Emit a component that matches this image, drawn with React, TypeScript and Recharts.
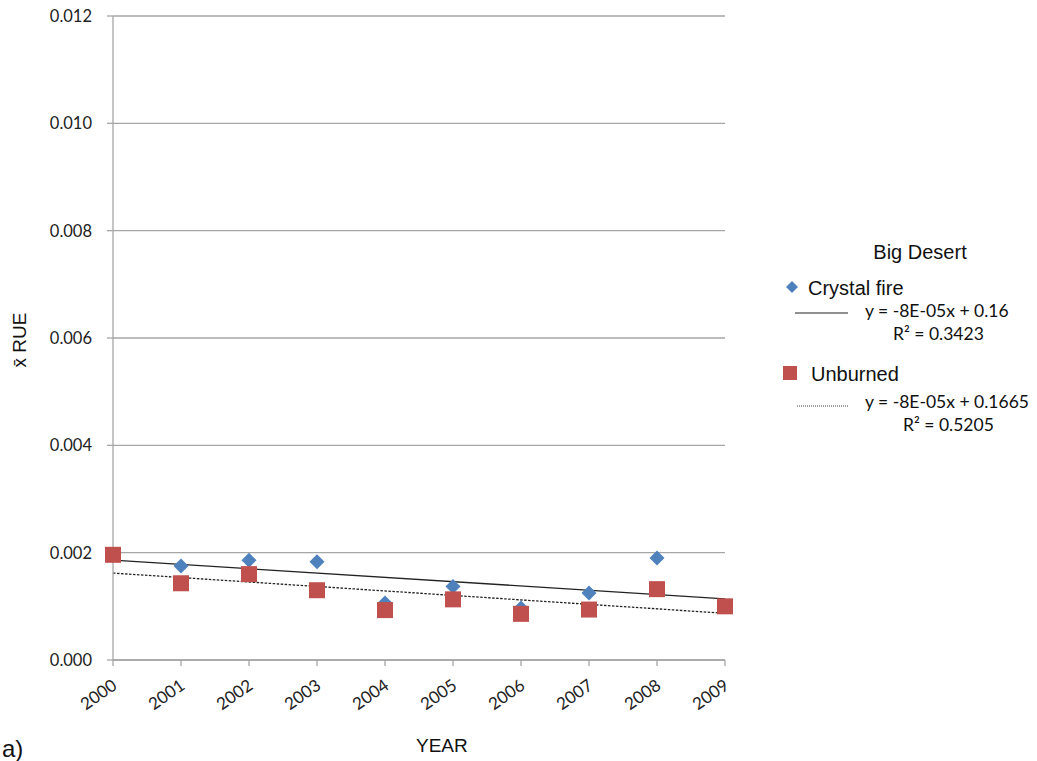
import React from 'react'
import {
  ComposedChart, Scatter, Line, XAxis, YAxis, CartesianGrid
} from 'recharts'

const years = [2000, 2001, 2002, 2003, 2004, 2005, 2006, 2007, 2008, 2009]
const crystalFire = [0.00195, 0.00175, 0.00186, 0.00183, 0.00106, 0.00137, 0.00097, 0.00125, 0.0019, 0.00101]
const unburned = [0.00196, 0.00143, 0.0016, 0.0013, 0.00093, 0.00113, 0.00086, 0.00094, 0.00132, 0.001]
// fitted trend lines, values at the first and last year
const trendYears = [2000, 2009]
const crystalTrend = [0.00186, 0.00114]
const unburnedTrend = [0.00162, 0.00087]
const yTicks = [0, 0.002, 0.004, 0.006, 0.008, 0.01, 0.012]

const BLUE = '#4f81bd'
const RED = '#c0504d'
const GRID = '#a6a6a6'

const toPoints = (xs: number[], vals: number[]) => xs.map((year, i) => ({ year, value: vals[i] }))

const crystalData = toPoints(years, crystalFire)
const unburnedData = toPoints(years, unburned)
const crystalTrendData = toPoints(trendYears, crystalTrend)
const unburnedTrendData = toPoints(trendYears, unburnedTrend)

const Diamond = (props: any) => {
  const { cx, cy } = props
  const r = 7.5
  return <path d={`M${cx},${cy - r}L${cx + r},${cy}L${cx},${cy + r}L${cx - r},${cy}Z`} fill={BLUE} />
}

const Square = (props: any) => {
  const { cx, cy } = props
  return <rect x={cx - 8} y={cy - 8} width={16} height={16} fill={RED} />
}

const eqFont = 'Lato, sans-serif'
const labelFont = '"Liberation Sans", Arial, sans-serif'

const YearTick = (props: any) => {
  const { x, y, payload } = props
  return (
    <text
      x={x + 5}
      y={y + 20}
      transform={`rotate(-35, ${x + 5}, ${y + 20})`}
      textAnchor="end"
      fontFamily={eqFont}
      fontSize={17}
      fill="#222"
    >
      {payload.value}
    </text>
  )
}

export default function App() {
  return (
    <div style={{ position: 'absolute', left: 0, top: 0, width: 1037, height: 761, background: '#fff', overflow: 'hidden' }}>
      <ComposedChart width={1037} height={761} margin={{ top: 16, right: 312, left: 53, bottom: 41 }}>
        <CartesianGrid vertical={false} stroke={GRID} strokeWidth={1.3} />
        <XAxis
          type="number"
          dataKey="year"
          domain={[2000, 2009]}
          ticks={years}
          stroke={GRID}
          strokeWidth={1.3}
          tickSize={6}
          tick={<YearTick />}
          height={60}
          interval={0}
        />
        <YAxis
          type="number"
          dataKey="value"
          domain={[0, 0.012]}
          ticks={yTicks}
          tickFormatter={(v: number) => v.toFixed(3)}
          stroke={GRID}
          strokeWidth={1.3}
          tickSize={6}
          tickMargin={15}
          width={60}
          tick={{ fill: '#222', fontSize: 16.5, fontFamily: eqFont }}
        />
        <Scatter name="Crystal fire" data={crystalData} shape={<Diamond />} isAnimationActive={false} />
        <Scatter name="Unburned" data={unburnedData} shape={<Square />} isAnimationActive={false} />
        <Line data={crystalTrendData} dataKey="value" stroke="#222" strokeWidth={1.3} dot={false} isAnimationActive={false} />
        <Line data={unburnedTrendData} dataKey="value" stroke="#222" strokeWidth={1.3} strokeDasharray="2.5 1.5" dot={false} isAnimationActive={false} />
      </ComposedChart>

      {/* axis titles */}
      <div style={{ position: 'absolute', left: 416, top: 735, fontFamily: labelFont, fontSize: 19, color: '#111' }}>YEAR</div>
      <div style={{ position: 'absolute', left: 20, top: 340, transform: 'translate(-50%, -50%) rotate(-90deg)', fontFamily: labelFont, fontSize: 19, color: '#111', whiteSpace: 'nowrap' }}>
        x̄ RUE
      </div>
      <div style={{ position: 'absolute', left: 2, top: 737, fontFamily: labelFont, fontSize: 24, lineHeight: '24px', color: '#111' }}>a)</div>

      {/* legend */}
      <svg style={{ position: 'absolute', left: 0, top: 0 }} width={1037} height={761}>
        <text x={920} y={259} textAnchor="middle" fontFamily={labelFont} fontSize={20} fill="#111">Big Desert</text>
        <path d="M792,281L798,287L792,293L786,287Z" fill={BLUE} />
        <text x={808} y={295} fontFamily={labelFont} fontSize={20} fill="#111">Crystal fire</text>
        <line x1={795} x2={848} y1={313} y2={313} stroke="#222" strokeWidth={1.2} />
        <text x={865} y={317} fontFamily={eqFont} fontSize={17.5} fill="#111">y = -8E-05x + 0.16</text>
        <text x={893} y={340} fontFamily={eqFont} fontSize={17.5} fill="#111">R² = 0.3423</text>
        <rect x={783} y={366} width={14} height={14} fill={RED} />
        <text x={811} y={381} fontFamily={labelFont} fontSize={20} fill="#111">Unburned</text>
        <line x1={797} x2={848} y1={406} y2={406} stroke="#444" strokeWidth={1} strokeDasharray="1 1" />
        <text x={865} y={408} fontFamily={eqFont} fontSize={17.5} fill="#111">y = -8E-05x + 0.1665</text>
        <text x={903} y={431} fontFamily={eqFont} fontSize={17.5} fill="#111">R² = 0.5205</text>
      </svg>
    </div>
  )
}
